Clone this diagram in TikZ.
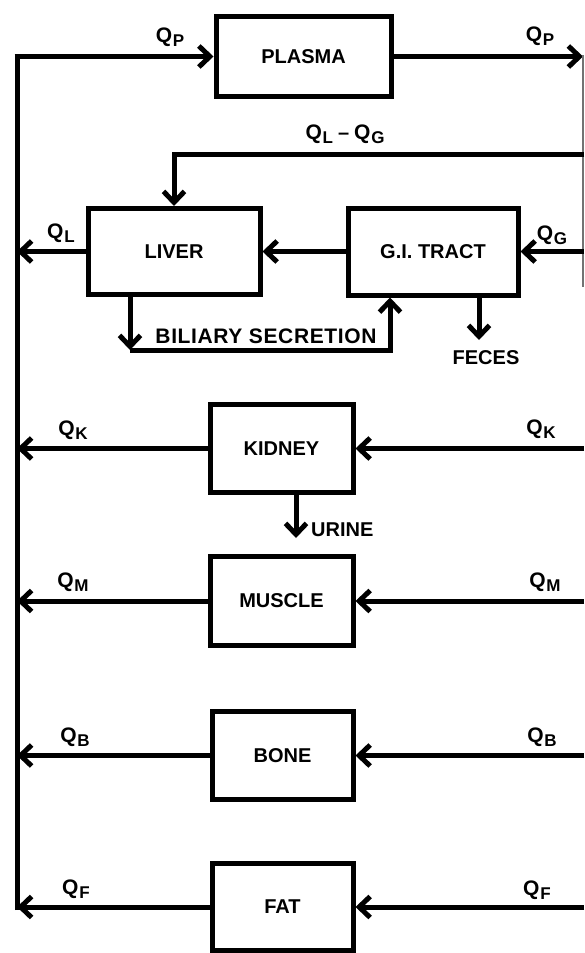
\documentclass[tikz,border=0pt]{standalone}
\usepackage{fontspec}
\setmainfont{Liberation Sans}
\usetikzlibrary{arrows.meta}
\newcommand\Qsub[1]{{\fontsize{21}{21}\selectfont Q}\kern0.8pt\raisebox{-4.5pt}{\fontsize{17}{17}\selectfont #1}}
\begin{document}
\begin{tikzpicture}[x=1pt,y=-1pt,
  box/.style={draw,line width=5pt,rectangle,inner sep=0pt,font=\fontsize{20}{20}\selectfont\bfseries},
  flow/.style={line width=5pt,-{Straight Barb[length=11pt,width=21pt]}},
  plain/.style={line width=5pt},
  lbl/.style={inner sep=0pt,font=\fontsize{20}{20}\selectfont\bfseries}]
\useasboundingbox (0,0) rectangle (584,953);

% boxes
\node[box,minimum width=175pt,minimum height=80pt] (plasma) at (303.5,56.5) {PLASMA};
\node[box,minimum width=172pt,minimum height=86pt] (liver) at (174,251.5) {LIVER};
\node[box,minimum width=170pt,minimum height=87pt] (gi) at (433,251.5) {G.I. TRACT};
\node[box,minimum width=143pt,minimum height=88pt] (kidney) at (281.5,448.5) {KIDNEY};
\node[box,minimum width=143pt,minimum height=89pt] (muscle) at (281.5,601) {MUSCLE};
\node[box,minimum width=141pt,minimum height=88pt] (bone) at (282.5,755.5) {BONE};
\node[box,minimum width=141pt,minimum height=87pt] (fat) at (282.5,907) {FAT};

% coordinates
\coordinate (lt) at (17,56.5);
\coordinate (lb) at (17,910);
\coordinate (redge) at (583,0);
\coordinate (rtop) at (583,55);
\coordinate (rbot) at (583,287);
\coordinate (lg) at (584,154);
\coordinate (b1) at (130,350);
\coordinate (b2) at (390,350);
\coordinate (fe) at (479,340);
\coordinate (ur) at (296,538);

% left collector and plasma
\draw[plain] (lb) -- (lt);
\draw[flow] ([xshift=-2.5pt]lt) -- (plasma.west);
\draw[flow] (plasma.east) -- (plasma.east -| redge);
\draw[line width=1.2pt,black!55] (rtop) -- (rbot);

% liver / GI
\draw[flow] (lg) -- (lg -| liver.north) -- (liver.north);
\draw[flow] (liver.west) -- (liver.west -| lt);
\draw[flow] (gi.west) -- (liver.east);
\draw[flow] ([xshift=1pt]gi.east -| redge) -- (gi.east);
\draw[flow] (liver.south -| b1) -- (b1);
\draw[flow] (b1) -- (b2) -- (b2 |- gi.south);
\draw[flow] (gi.south -| fe) -- (fe);

% other organs
\draw[flow] (kidney.west) -- (kidney.west -| lt);
\draw[flow] ([xshift=1pt]kidney.east -| redge) -- (kidney.east);
\draw[flow] (kidney.south -| ur) -- (ur);
\draw[flow] (muscle.west) -- (muscle.west -| lt);
\draw[flow] ([xshift=1pt]muscle.east -| redge) -- (muscle.east);
\draw[flow] (bone.west) -- (bone.west -| lt);
\draw[flow] ([xshift=1pt]bone.east -| redge) -- (bone.east);
\draw[flow] (fat.west) -- (fat.west -| lt);
\draw[flow] ([xshift=1pt]fat.east -| redge) -- (fat.east);

% labels
\node[lbl] (qpl) at (170,37) {\Qsub{P}};
\node[lbl] (qpr) at (540,36) {\Qsub{P}};
\node[lbl] (qlg) at (345,134) {\Qsub{L}\kern5pt--\kern5pt\Qsub{G}};
\node[lbl] (ql) at (61,233) {\Qsub{L}};
\node[lbl] (qg) at (552,235) {\Qsub{G}};
\node[lbl,font=\fontsize{21}{21}\selectfont\bfseries\addfontfeature{LetterSpace=3}] (bil) at (266,336) {BILIARY SECRETION};
\node[lbl] (fec) at (486,358) {FECES};
\node[lbl,anchor=west] (uri) at (311,530) {URINE};
\node[lbl] (qkl) at (73,430) {\Qsub{K}};
\node[lbl] (qkr) at (541,429) {\Qsub{K}};
\node[lbl] (qml) at (73,582) {\Qsub{M}};
\node[lbl] (qmr) at (545,582) {\Qsub{M}};
\node[lbl] (qbl) at (75,737) {\Qsub{B}};
\node[lbl] (qbr) at (542,737) {\Qsub{B}};
\node[lbl] (qfl) at (76,889) {\Qsub{F}};
\node[lbl] (qfr) at (537,890) {\Qsub{F}};
\end{tikzpicture}
\end{document}
